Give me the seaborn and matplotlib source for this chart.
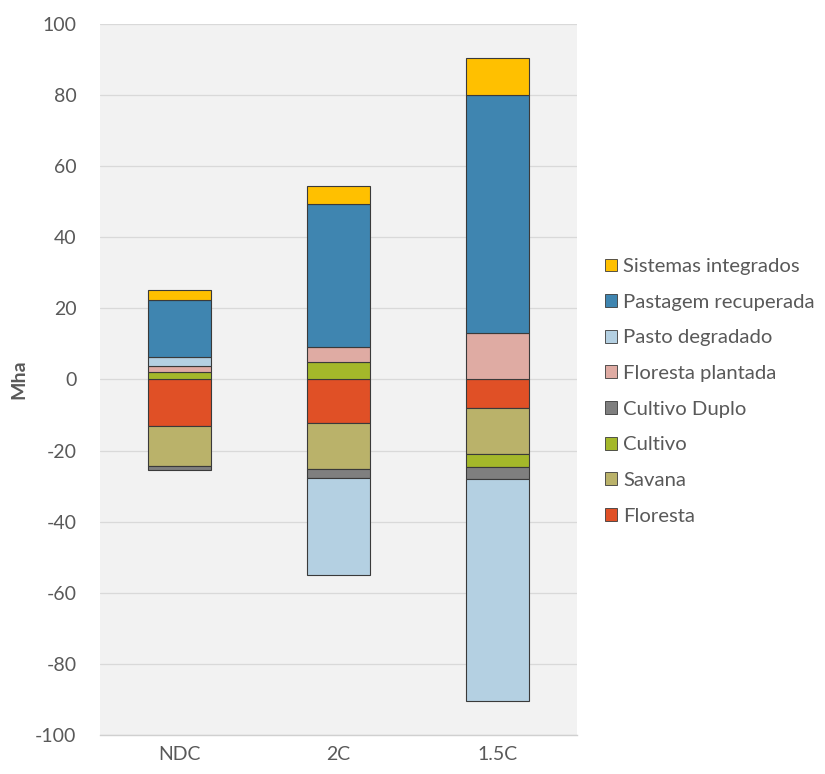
import matplotlib
matplotlib.use("Agg")
import matplotlib.pyplot as plt
import matplotlib.transforms as mtransforms
from matplotlib.patches import Patch
import numpy as np
import pandas as pd
import seaborn as sns

# Land-use change by scenario (Mha)
scenarios = ["NDC", "2C", "1.5C"]
series = ["Floresta", "Savana", "Cultivo", "Cultivo Duplo",
          "Floresta plantada", "Pasto degradado", "Pastagem recuperada",
          "Sistemas integrados"]
floresta = [-13.0, -12.2, -8.0]
savana = [-11.4, -13.0, -13.0]
cultivo = [2.1, 4.9, -3.7]
cultivo_duplo = [-1.2, -2.5, -3.3]
floresta_plantada = [1.7, 4.2, 13.0]
pasto_degradado = [2.5, -27.2, -62.3]
pastagem_recuperada = [16.1, 40.2, 66.9]
sistemas_integrados = [2.7, 5.1, 10.6]

values = [floresta, savana, cultivo, cultivo_duplo, floresta_plantada,
          pasto_degradado, pastagem_recuperada, sistemas_integrados]
colors = ["#E05026", "#BAB26A", "#A4B82A", "#7F7F7F",
          "#DFABA3", "#B4D0E2", "#3F85B0", "#FFC000"]

sns.set_theme(style="white")
plt.rcParams["font.family"] = ["Lato", "DejaVu Sans"]
plt.rcParams["axes.unicode_minus"] = False

fig = plt.figure(figsize=(8.25, 7.74), dpi=100)
ax = fig.add_axes([0.1212, 0.0504, 0.578, 0.9186])
ax.set_facecolor("#F2F2F2")

# Stack positives upward and negatives downward, in series order
pos_base = np.zeros(len(scenarios))
neg_base = np.zeros(len(scenarios))
for name, vals, col in zip(series, values, colors):
    vals = np.array(vals, dtype=float)
    bottoms = np.where(vals >= 0, pos_base, neg_base)
    df = pd.DataFrame({"cenario": scenarios, "valor": vals, "base": bottoms})
    df = df[df["valor"] != 0]
    sns.barplot(data=df, x="cenario", y="valor", order=scenarios,
                color=col, saturation=1, width=0.4, errorbar=None,
                bottom=df["base"].to_numpy(), edgecolor="#3A3A3A",
                linewidth=0.8, ax=ax, zorder=3)
    pos_base = pos_base + np.where(vals > 0, vals, 0)
    neg_base = neg_base + np.where(vals < 0, vals, 0)

ax.set_ylim(-100, 100)
ax.set_xlim(-0.5, 2.5)
ax.set_yticks(np.arange(-100, 101, 20))
ax.yaxis.grid(True, color="#D9D9D9", linewidth=0.9, zorder=0)
ax.set_axisbelow(True)
for s in ["left", "right", "top"]:
    ax.spines[s].set_visible(False)
ax.spines["bottom"].set_color("#D0D0D0")
ax.spines["bottom"].set_linewidth(1.0)

ax.tick_params(axis="both", length=0, labelsize=14, labelcolor="#595959")
ax.tick_params(axis="y", pad=17)
ax.tick_params(axis="x", pad=8)
ax.set_xlabel("")
ax.set_ylabel("Mha", fontsize=14, fontweight="bold", color="#595959")
ax.yaxis.set_label_coords(-0.16, 0.5)
ax.yaxis.label.set_transform(
    mtransforms.blended_transform_factory(
        mtransforms.IdentityTransform(), ax.transAxes))
ax.yaxis.label.set_position((27, 0.5))

handles = [Patch(facecolor=c, edgecolor="#3A3A3A", linewidth=0.6, label=n)
           for n, c in zip(series, colors)][::-1]
leg = fig.legend(handles=handles, loc="upper left",
                 bbox_to_anchor=(0.7235, 0.677), frameon=False,
                 fontsize=14.6, handlelength=0.6, handleheight=0.6,
                 handletextpad=0.3, labelspacing=0.92, borderaxespad=0)
for t in leg.get_texts():
    t.set_color("#595959")

fig.savefig("out.png", dpi=100, facecolor="white")
